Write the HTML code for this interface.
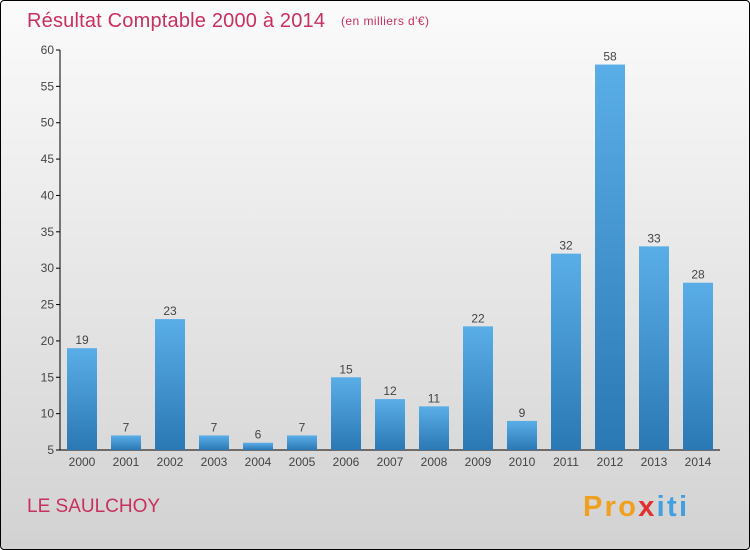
<!DOCTYPE html>
<html><head><meta charset="utf-8"><style>
html,body{margin:0;padding:0}
body{width:750px;height:550px;overflow:hidden;font-family:"Liberation Sans",sans-serif}
#frame{position:absolute;left:0;top:0;width:748px;height:548px;border:1px solid #000;border-radius:4px;background:linear-gradient(#fbfbfb,#d2d2d2)}
</style></head><body>
<div id="frame">
<svg width="750" height="550" style="position:absolute;left:-1px;top:-1px">
<defs><linearGradient id="bg" x1="0" y1="0" x2="0" y2="1"><stop offset="0" stop-color="#5aaee8"/><stop offset="1" stop-color="#2a78b4"/></linearGradient></defs>
<text x="27" y="27" font-size="20" fill="#c8305e" textLength="298">Résultat Comptable 2000 à 2014</text>
<text x="341" y="25" font-size="12" fill="#c8305e" textLength="88">(en milliers d'€)</text>
<g id="ax"></g><g id="bars"></g>
<text x="27" y="512" font-size="19" fill="#c8305e">LE SAULCHOY</text>
<text x="583" y="516" font-size="29" font-weight="bold" textLength="104"><tspan fill="#f0a020">Pro</tspan><tspan fill="#e03030">x</tspan><tspan fill="#40a0e0">iti</tspan></text>
</svg></div>
<script>
const years=["2000","2001","2002","2003","2004","2005","2006","2007","2008","2009","2010","2011","2012","2013","2014"];
const values=[19,7,23,7,6,7,15,12,11,22,9,32,58,33,28];
const ticks=[5,10,15,20,25,30,35,40,45,50,55,60];
const NS="http://www.w3.org/2000/svg";
const y=v=>450-(v-5)*400/55, x=i=>82+i*44;
function mk(t,a,p,txt){const e=document.createElementNS(NS,t);for(const k in a)e.setAttribute(k,a[k]);if(txt!==undefined)e.textContent=txt;p.appendChild(e);return e;}
const ax=document.getElementById('ax'), bars=document.getElementById('bars');
const yl=mk('line',{x1:60,y1:50,x2:60,y2:450,stroke:'#000'},ax);


const xl=mk('line',{x1:60,y1:450,x2:720,y2:450,stroke:'#000'},ax);


ticks.forEach(t=>{
 mk('line',{x1:56,y1:y(t),x2:60,y2:y(t),stroke:'#000'},ax);
 const l=mk('text',{x:54,y:y(t)+4,'font-size':12,fill:'#444','text-anchor':'end'},ax,t);
 
 
});
years.forEach((yr,i)=>{
 const v=values[i];
 const r=mk('rect',{x:x(i)-15,y:y(v),width:30,height:450-y(v),fill:'url(#bg)'},bars);
 
 
 const vl=mk('text',{x:x(i),y:y(v)-4,'font-size':12,fill:'#444','text-anchor':'middle'},bars,v);
 
 
 const xl2=mk('text',{x:x(i),y:466,'font-size':12,fill:'#444','text-anchor':'middle'},ax,yr);
 
 
});
</script>
</body></html>
